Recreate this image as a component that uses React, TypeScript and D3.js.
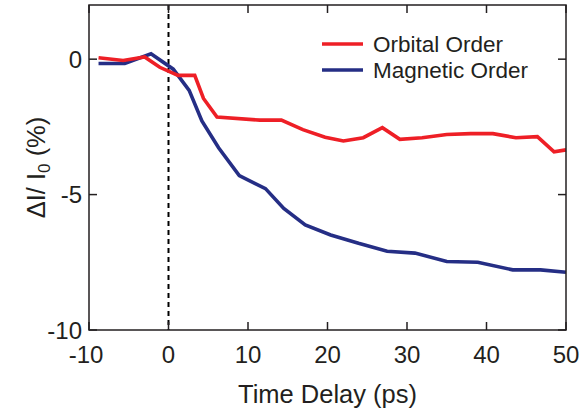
import React from "react";
import * as d3 from "d3";

const orbitalTime = [-8.8, -5.7, -3, -1.1, 1.2, 3.3, 4.4, 6.1, 11.5, 14.2, 16.9, 19.7, 22, 24.5, 26.9, 29.1, 31.9, 35, 38, 40.8, 43.7, 46.4, 48.5, 50];
const orbitalValue = [0.05, -0.05, 0.08, -0.3, -0.6, -0.6, -1.45, -2.14, -2.25, -2.25, -2.6, -2.88, -3.02, -2.9, -2.53, -2.96, -2.9, -2.78, -2.75, -2.75, -2.9, -2.86, -3.42, -3.35];

const magneticTime = [-8.8, -5.5, -2.2, 0.6, 2.6, 4.2, 6.3, 8.9, 12.2, 14.5, 17.2, 20.4, 23.9, 27.5, 31, 35, 38.9, 43.3, 46.8, 50];
const magneticValue = [-0.16, -0.16, 0.2, -0.37, -1.15, -2.28, -3.27, -4.3, -4.78, -5.51, -6.12, -6.49, -6.8, -7.09, -7.16, -7.47, -7.5, -7.78, -7.78, -7.87];

const xTicks = [-10, 0, 10, 20, 30, 40, 50];
const yTicks = [0, -5, -10];
const seriesNames = ["Orbital Order", "Magnetic Order"];
const seriesColors = ["#ee1f26", "#252e85"];

const W = 582, H = 413;
const L = 89, R = 566, T = 5, B = 330;
const axisColor = "#231f20";
const font = "Liberation Sans, Arial, Helvetica, sans-serif";

export default function App() {
  const x = d3.scaleLinear().domain([-10, 50]).range([L, R]);
  const y = d3.scaleLinear().domain([-10, 2]).range([B, T]);
  const line = d3.line<[number, number]>().x(d => x(d[0])).y(d => y(d[1]));
  const series = [
    orbitalTime.map((t, i) => [t, orbitalValue[i]] as [number, number]),
    magneticTime.map((t, i) => [t, magneticValue[i]] as [number, number]),
  ];
  const tl = 8;
  return (
    <svg width={W} height={H} style={{ position: "absolute", left: 0, top: 0, background: "#fff" }} fontFamily={font}>
      <line x1={x(0)} x2={x(0)} y1={T} y2={B} stroke="#000" strokeWidth={2} strokeDasharray="5,4" />
      {series.slice().reverse().map((s, i) => {
        const idx = series.length - 1 - i;
        return <path key={idx} d={line(s) || ""} fill="none" stroke={seriesColors[idx]} strokeWidth={3.6} strokeLinejoin="miter" />;
      })}
      <rect x={L} y={T} width={R - L} height={B - T} fill="none" stroke={axisColor} strokeWidth={1.5} />
      {xTicks.map(t => (
        <g key={"x" + t}>
          <line x1={x(t)} x2={x(t)} y1={B} y2={B - tl} stroke={axisColor} strokeWidth={1.5} />
          <line x1={x(t)} x2={x(t)} y1={T} y2={T + tl} stroke={axisColor} strokeWidth={1.5} />
          <text x={x(t) + (t < 0 ? -3 : 0)} y={363} textAnchor="middle" fontSize={24} fill={axisColor}>{t}</text>
        </g>
      ))}
      {yTicks.map(t => (
        <g key={"y" + t}>
          <line x1={L} x2={L + tl} y1={y(t)} y2={y(t)} stroke={axisColor} strokeWidth={1.5} />
          <line x1={R} x2={R - tl} y1={y(t)} y2={y(t)} stroke={axisColor} strokeWidth={1.5} />
          <text x={L - 7} y={y(t) + 8.5} textAnchor="end" fontSize={24} fill={axisColor}>{t}</text>
        </g>
      ))}
      <text x={(L + R) / 2 + 0} y={403} textAnchor="middle" fontSize={25.5} fill={axisColor}>Time Delay (ps)</text>
      <text transform={`translate(45, ${(T + B) / 2}) rotate(-90)`} textAnchor="middle" fontSize={25.5} fill={axisColor}>
        ΔI/ I<tspan fontSize={17} dy={5}>0</tspan><tspan dy={-5}> (%)</tspan>
      </text>
      {seriesNames.map((n, i) => (
        <g key={n}>
          <line x1={322} x2={363} y1={44 + i * 26} y2={44 + i * 26} stroke={seriesColors[i]} strokeWidth={3.6} />
          <text x={373} y={52 + i * 26} fontSize={22.5} fill={axisColor}>{n}</text>
        </g>
      ))}
    </svg>
  );
}
